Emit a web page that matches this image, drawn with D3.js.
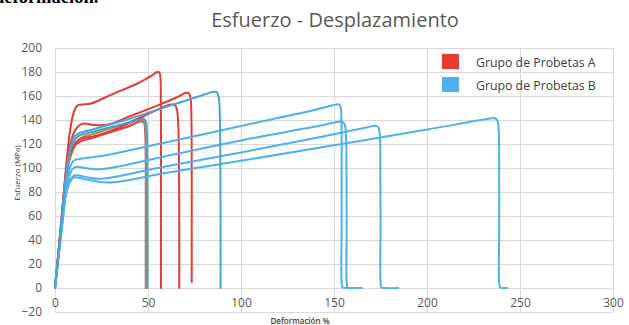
<!DOCTYPE html>
<html>
<head>
<meta charset="utf-8">
<script src="https://cdn.jsdelivr.net/npm/d3@7"></script>
<style>
  html, body { margin: 0; padding: 0; background: #ffffff; }
  svg { display: block; }
</style>
</head>
<body>
<div id="chart"></div>
<script>
// ---- Data (Deformación %, Esfuerzo MPa) ----
const xTicks = [0, 50, 100, 150, 200, 250, 300];
const yTicks = [-20, 0, 20, 40, 60, 80, 100, 120, 140, 160, 180, 200];

// Grupo de Probetas A
const probetaA1 = [[0,0],[3,50],[6,102],[8,130],[10,146],[12,152],[15,153],[19,153.5],[30,161],[45,171],[52,177],[55,180],[56.2,179.5],[56.7,175],[56.9,160],[57,120],[57,60],[57,0]];
const probetaA2 = [[0,0],[3,48],[6,98],[8,118],[11,132],[15,137],[20,136],[28,136],[40,143],[55,152],[67,160],[70,162.5],[72,162.3],[72.9,158],[73.3,145],[73.5,100],[73.5,50],[73.5,5]];
const probetaA3 = [[0,0],[3,47],[6,95],[8,111],[11,121],[15,125],[20,126],[35,134],[50,145],[60,152],[62.5,153],[64.5,152.5],[65.6,148],[66.3,135],[66.7,100],[66.8,50],[66.8,0]];
const probetaA4 = [[0,0],[3,46],[6,92],[8,108],[11,119],[15,123],[20,125],[30,130],[40,135],[45,138.5],[46.8,139],[47.9,137.5],[48.5,130],[48.8,100],[48.8,50],[48.8,0]];
const probetaA5 = [[0,0],[3,46],[6,93],[8,110],[11,121],[15,126],[20,128],[30,133],[40,138],[45.5,141.5],[47.2,141.5],[48.2,138],[48.8,128],[49,100],[49,50],[49,0]];

// Grupo de Probetas B
const probetaB1 = [[0,0],[2,30],[4,65],[6,95],[8,115],[10,125],[13,129],[20,132],[40,141],[60,151],[80,161],[85,163.5],[87,163.2],[88,159],[88.6,145],[88.9,100],[89,50],[89,0]];
const probetaB2 = [[0,0],[2,28],[4,58],[6,84],[8,100],[10,106],[13,107.5],[25,110],[60,121.5],[100,135],[140,148.5],[150,152.5],[152.5,153],[153.5,151],[154,140],[154.1,100],[154.1,50],[154.1,5],[154.6,0.5],[156,0],[158,0]];
const probetaB3 = [[0,0],[2,28],[4,57],[6,82],[8,95],[10,100],[12,101],[16,100],[25,99],[60,110],[100,123],[140,134.5],[152,138.3],[154.5,138.5],[155.8,136],[156.5,125],[156.7,100],[156.8,50],[156.8,5],[157.3,0.5],[159,0],[165,0]];
const probetaB4 = [[0,0],[2,27],[4,55],[6,80],[8,90],[10,93.5],[12,94],[18,92],[25,91],[60,101.5],[100,113],[140,125],[168,134],[172.5,135.2],[174,133.5],[174.7,125],[174.9,100],[175,50],[175,5],[175.5,0.5],[177,0],[184.5,0]];
const probetaB5 = [[0,0],[2,27],[4,54],[6,78],[8,88],[10,92],[12,92],[20,89.5],[30,88],[60,96],[100,106],[150,119],[200,132],[233,141],[236.5,141.5],[237.9,139.5],[238.6,130],[238.8,100],[238.8,50],[238.8,5],[239.3,0.5],[240.5,0],[243,0]];
const probetaB6 = [[0,0],[2,30],[4,63],[6,93],[8,113],[10,122],[13,127],[20,130],[35,136],[45,140],[47.5,141],[48.8,139],[49.4,130],[49.6,100],[49.7,50],[49.7,0]];

const seriesNames = ["Grupo de Probetas A", "Grupo de Probetas B"];
const colorA = "#e63b33";
const colorB = "#4db2ec";

// ---- Layout ----
const W = 629, H = 325;
const svg = d3.select("#chart").append("svg").attr("width", W).attr("height", H);
svg.append("rect").attr("width", W).attr("height", H).attr("fill", "#ffffff");

const x = d3.scaleLinear().domain([0, 300]).range([55, 613]);
const y = d3.scaleLinear().domain([-20, 200]).range([312, 48]);
const font = "'Open Sans', 'Noto Sans', sans-serif";

// cut-off caption at the top of the page (as in the source image)
svg.append("text").attr("x", -6).attr("y", 3)
  .attr("font-family", "'Liberation Serif', 'Times New Roman', serif")
  .attr("font-weight", "bold").attr("font-size", 18.5).attr("fill", "#000")
  .text("deformación.");

// Horizontal gridlines + y labels
const yAxis = svg.append("g").attr("transform", `translate(${x(0)},0)`)
  .call(d3.axisLeft(y).tickValues(yTicks).tickSize(-(x(300) - x(0))).tickPadding(13));
yAxis.select(".domain").remove();
yAxis.selectAll("line").attr("stroke", "#d9d9d9").attr("stroke-width", 1);
yAxis.selectAll("text").attr("font-family", font).attr("font-size", 12).attr("fill", "#595959");

// Vertical gridlines
const xGrid = svg.append("g").attr("transform", `translate(0,${y(-20)})`)
  .call(d3.axisBottom(x).tickValues(xTicks).tickSize(-(y(-20) - y(200))).tickFormat(""));
xGrid.select(".domain").remove();
xGrid.selectAll("line").attr("stroke", "#d9d9d9").attr("stroke-width", 1);

// X labels beneath the zero line
const xAxis = svg.append("g").attr("transform", `translate(0,${y(0)})`)
  .call(d3.axisBottom(x).tickValues(xTicks).tickSize(0).tickPadding(10));
xAxis.select(".domain").remove();
xAxis.selectAll("text").attr("font-family", font).attr("font-size", 12).attr("fill", "#595959");

// Curves
const line = d3.line().x(d => x(d[0])).y(d => y(d[1])).curve(d3.curveCatmullRom.alpha(0.5));
const curves = [
  [probetaA4, colorA], [probetaA5, "#a8923e"], [probetaA3, colorA], [probetaA2, colorA], [probetaA1, colorA],
  [probetaB6, "#4a9fd2"], [probetaB5, colorB], [probetaB4, colorB], [probetaB3, colorB], [probetaB2, colorB], [probetaB1, "#4aa3d6"]
];
svg.append("g").selectAll("path").data(curves).join("path")
  .attr("d", d => line(d[0]))
  .attr("fill", "none").attr("stroke", d => d[1])
  .attr("stroke-width", 2).attr("stroke-linejoin", "round").attr("stroke-linecap", "round");

// Title
svg.append("text").attr("x", 335).attr("y", 27).attr("text-anchor", "middle")
  .attr("font-family", font).attr("font-size", 20).attr("fill", "#595959")
  .text("Esfuerzo - Desplazamiento");

// Axis titles
svg.append("text").attr("transform", "translate(20,173) rotate(-90)").attr("text-anchor", "middle")
  .attr("font-family", font).attr("font-size", 8).attr("fill", "#404040")
  .text("Esfuerzo (MPa)");
svg.append("text").attr("x", 300).attr("y", 324).attr("text-anchor", "middle")
  .attr("font-family", font).attr("font-size", 8).attr("font-weight", "600").attr("fill", "#404040")
  .text("Deformación %");

// Legend
const legend = svg.append("g");
[colorA, colorB].forEach((c, i) => {
  legend.append("rect").attr("x", 442).attr("y", 54 + i * 23).attr("width", 17).attr("height", 15).attr("fill", c);
  legend.append("text").attr("x", 476).attr("y", 66.5 + i * 23)
    .attr("font-family", font).attr("font-size", 12.3).attr("fill", "#404040")
    .text(seriesNames[i]);
});
</script>
</body>
</html>
